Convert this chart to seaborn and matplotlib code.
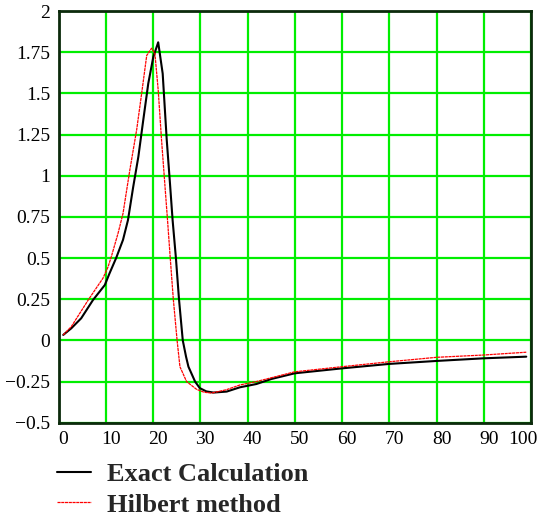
import numpy as np
import pandas as pd
import seaborn as sns
import matplotlib
matplotlib.use("Agg")
import matplotlib.pyplot as plt
import matplotlib.transforms as mtransforms

# ---- data ----
exact_x = [1, 2.7, 4.8, 7.3, 9.8, 10.8, 12.2, 13.65, 14.7, 15.8, 16.9, 17.95,
           19.0, 20.06, 21.1, 22.05, 22.9, 23.6, 24.15, 24.85, 25.5, 26.3, 27.0,
           27.5, 28.9, 29.9, 31.3, 32.8, 35.6, 38.4, 41.9, 45, 50, 55, 60, 70,
           80, 90, 99]
exact_y = [0.033, 0.073, 0.134, 0.245, 0.336, 0.407, 0.50, 0.61, 0.73, 0.93,
           1.115, 1.34, 1.56, 1.72, 1.81, 1.62, 1.22, 0.95, 0.73, 0.50, 0.25,
           0.0, -0.10, -0.16, -0.25, -0.29, -0.31, -0.317, -0.311, -0.285,
           -0.265, -0.235, -0.20, -0.185, -0.17, -0.143, -0.125, -0.109, -0.099]

hilbert_x = [1, 2.7, 6.4, 9.4, 10.5, 11.2, 12.6, 13.65, 15.1, 16.55, 17.6,
             18.67, 19.7, 20.4, 21.1, 21.8, 22.5, 23.1, 23.65, 24.3, 25.1, 25.7,
             27.1, 29.2, 30.8, 32.4, 35.5, 38.4, 41.9, 50, 60, 70, 80, 90, 99]
hilbert_y = [0.033, 0.083, 0.25, 0.377, 0.447, 0.51, 0.65, 0.77, 1.035, 1.28,
             1.50, 1.73, 1.774, 1.743, 1.52, 1.22, 0.95, 0.72, 0.50, 0.25, 0.0,
             -0.16, -0.25, -0.297, -0.315, -0.32, -0.30, -0.271, -0.25, -0.191,
             -0.16, -0.13, -0.103, -0.089, -0.072]

x_ticks = [0, 10, 20, 30, 40, 50, 60, 70, 80, 90, 100]
y_ticks = [-0.5, -0.25, 0, 0.25, 0.5, 0.75, 1, 1.25, 1.5, 1.75, 2]
y_tick_labels = ["\u22120.5", "\u22120.25", "0", "0.25", "0.5", "0.75", "1",
                 "1.25", "1.5", "1.75", "2"]
series_names = ["Exact Calculation", "Hilbert method"]

sns.set_style("white")
plt.rcParams["font.family"] = ["Liberation Serif", "DejaVu Serif"]

fig = plt.figure(figsize=(5.39, 5.22), dpi=100)
ax = fig.add_axes([58.5 / 539, 1 - 422.7 / 522, (531 - 58.5) / 539, (422.7 - 11) / 522])

df_e = pd.DataFrame({"x": exact_x, "y": exact_y})
df_h = pd.DataFrame({"x": hilbert_x, "y": hilbert_y})
sns.lineplot(data=df_e, x="x", y="y", ax=ax, color="black", lw=1.5,
             sort=False, label=series_names[0], zorder=3)
sns.lineplot(data=df_h, x="x", y="y", ax=ax, color="red", lw=0.9,
             sort=False, label=series_names[1], zorder=4,
             linestyle=(0, (2.5, 0.5)))

ax.set_xlim(0, 100)
ax.set_ylim(-0.5, 2)
ax.set_xticks(x_ticks)
ax.set_yticks(y_ticks)
ax.set_yticklabels(y_tick_labels)
ax.set_xlabel("")
ax.set_ylabel("")
ax.grid(True, color="#00ee00", lw=1.6)
ax.set_axisbelow(True)
ax.tick_params(axis="both", length=0, labelsize=14, colors="black")
ax.tick_params(axis="y", pad=6)
ax.tick_params(axis="x", pad=6)
for s in ax.spines.values():
    s.set_color("#0c2a0c")
    s.set_linewidth(2)
    s.set_visible(True)

# nudge x labels like the reference
offset = mtransforms.ScaledTranslation(5 / 100, 0, fig.dpi_scale_trans)
xl = ax.get_xticklabels()
for i, lab in enumerate(xl):
    lab.set_transform(lab.get_transform() + offset)
xl[-1].set_horizontalalignment("right")
xl[-1].set_transform(xl[-1].get_transform() + mtransforms.ScaledTranslation(2 / 100, 0, fig.dpi_scale_trans))

leg = ax.legend(loc="upper left", bbox_to_anchor=(57 / 539, 1 - 463 / 522),
                bbox_transform=fig.transFigure, frameon=False,
                prop={"family": "Liberation Serif", "weight": "bold", "size": 19},
                handlelength=1.3, handletextpad=0.6, labelspacing=0.25,
                borderpad=0, borderaxespad=0)

fig.savefig("out.png", dpi=100)
